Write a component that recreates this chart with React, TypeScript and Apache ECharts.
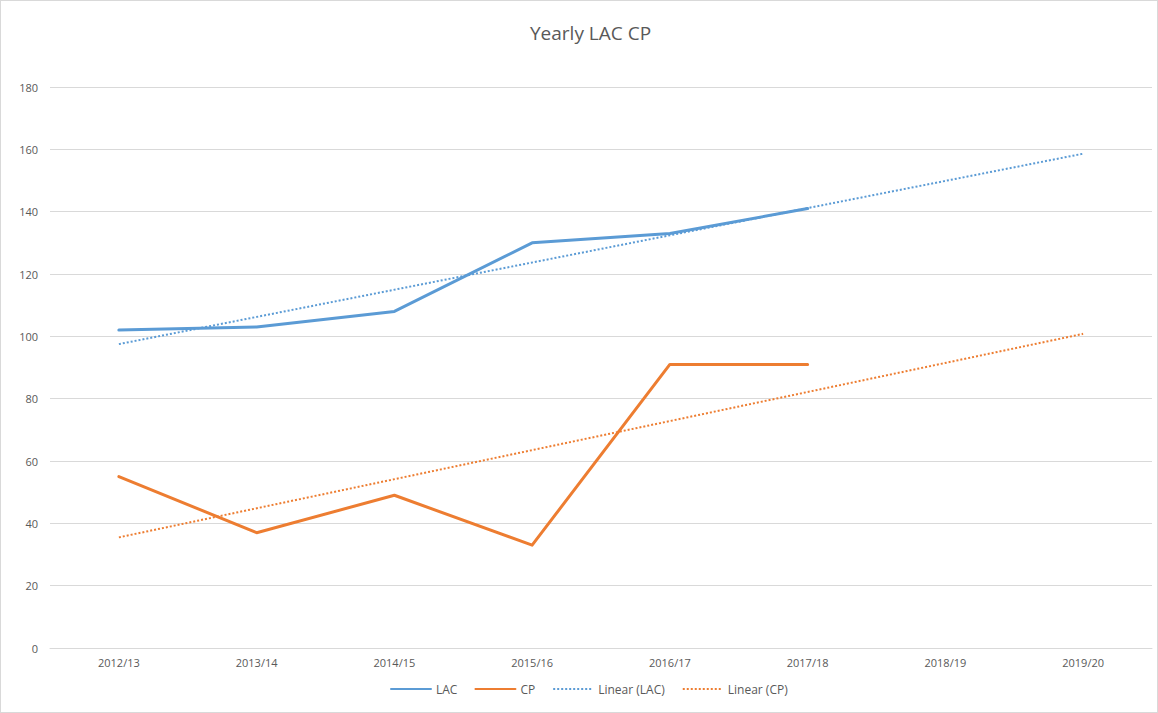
import React, { useEffect, useRef } from "react";
import * as echarts from "echarts";

const categories = ["2012/13", "2013/14", "2014/15", "2015/16", "2016/17", "2017/18", "2018/19", "2019/20"];
const lacValues = [102, 103, 108, 130, 133, 141, null, null];
const cpValues = [55, 37, 49, 33, 91, 91, null, null];
// Trend lines: start (2012/13) and end (2019/20)
const lacTrend = [97.5, null, null, null, null, null, null, 158.6];
const cpTrend = [35.5, null, null, null, null, null, null, 100.8];

const BLUE = "#5B9BD5";
const ORANGE = "#ED7D31";
const TEXT = "#595959";
const FONT = "'Open Sans', 'Noto Sans', sans-serif";

export default function App() {
  const ref = useRef<HTMLDivElement>(null);
  useEffect(() => {
    if (!ref.current) return;
    const chart = echarts.init(ref.current, null, { renderer: "svg" });
    chart.setOption({
      animation: false,
      backgroundColor: "#ffffff",
      textStyle: { fontFamily: FONT },
      title: {
        text: "Yearly LAC CP",
        left: 524,
        top: 17,
        textStyle: { color: TEXT, fontSize: 19, fontWeight: "normal", fontFamily: FONT },
      },
      legend: {
        bottom: 12,
        left: 384,
        itemWidth: 40,
        itemHeight: 10,
        itemGap: 17,
        itemStyle: { opacity: 0 },
        textStyle: { color: TEXT, fontSize: 12, fontFamily: FONT },
        data: ["LAC", "CP", "Linear (LAC)", "Linear (CP)"],
      },
      grid: { left: 49, right: 5, top: 86, bottom: 64, containLabel: false },
      xAxis: {
        type: "category",
        data: categories,
        boundaryGap: true,
        axisLine: { show: true, lineStyle: { color: "#d9d9d9", width: 1 } },
        axisTick: { show: false },
        axisLabel: { color: TEXT, fontSize: 11, margin: 9, fontFamily: FONT },
      },
      yAxis: {
        type: "value",
        min: 0,
        max: 180,
        interval: 20,
        axisLine: { show: false },
        axisTick: { show: false },
        splitLine: { lineStyle: { color: "#d9d9d9", width: 1 } },
        axisLabel: { color: TEXT, fontSize: 11, margin: 12, fontFamily: FONT },
      },
      series: [
        {
          name: "LAC",
          type: "line",
          data: lacValues,
          symbol: "none",
          lineStyle: { color: BLUE, width: 3, cap: "round", join: "round" },
          itemStyle: { color: BLUE },
          z: 3,
        },
        {
          name: "CP",
          type: "line",
          data: cpValues,
          symbol: "none",
          lineStyle: { color: ORANGE, width: 3, cap: "round", join: "round" },
          itemStyle: { color: ORANGE },
          z: 3,
        },
        {
          name: "Linear (LAC)",
          type: "line",
          data: lacTrend,
          connectNulls: true,
          symbol: "none",
          lineStyle: { color: BLUE, width: 2, type: [2, 2] },
          itemStyle: { color: BLUE },
          z: 2,
        },
        {
          name: "Linear (CP)",
          type: "line",
          data: cpTrend,
          connectNulls: true,
          symbol: "none",
          lineStyle: { color: ORANGE, width: 2, type: [2, 2] },
          itemStyle: { color: ORANGE },
          z: 2,
        },
      ],
    });
    return () => chart.dispose();
  }, []);
  return (
    <div
      style={{
        position: "fixed",
        left: 0,
        top: 0,
        width: 1158,
        height: 713,
        boxSizing: "border-box",
        border: "1px solid #d9d9d9",
        background: "#fff",
      }}
    >
      <div ref={ref} style={{ width: "100%", height: "100%" }} />
    </div>
  );
}
